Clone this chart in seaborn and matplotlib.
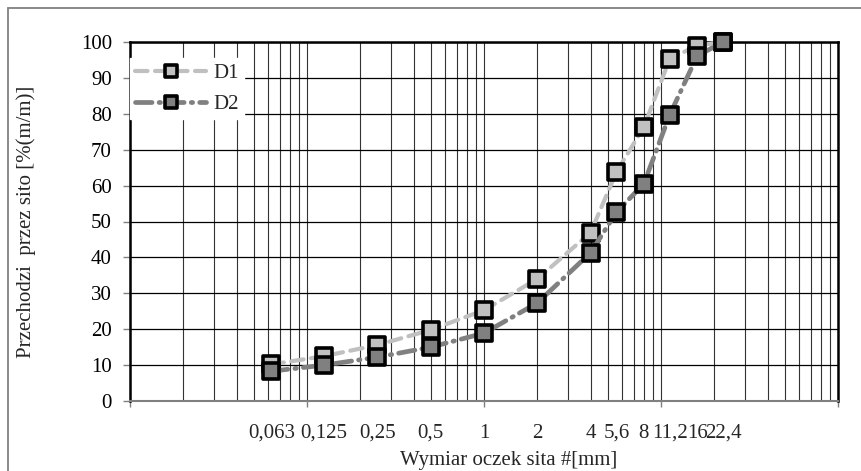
import numpy as np
import pandas as pd
import matplotlib
matplotlib.use("Agg")
import matplotlib.pyplot as plt
from matplotlib.markers import MarkerStyle
from matplotlib.patches import Rectangle
from matplotlib.ticker import LogLocator, NullFormatter
import seaborn as sns

# sieve sizes [mm] and percent passing for the two mixes
sieve_mm = [0.063, 0.125, 0.25, 0.5, 1, 2, 4, 5.6, 8, 11.2, 16, 22.4]
sieve_labels = ["0,063", "0,125", "0,25", "0,5", "1", "2", "4", "5,6", "8", "11,2", "16", "22,4"]
d1_pass = [10.2, 12.5, 15.6, 19.8, 25.3, 34.0, 46.9, 63.8, 76.3, 95.3, 99.0, 100.0]
d2_pass = [8.3, 10.0, 12.2, 15.0, 18.9, 27.3, 41.3, 52.6, 60.5, 79.7, 96.1, 100.0]
y_ticks = list(range(0, 101, 10))

df = pd.DataFrame({"sito": sieve_mm, "D1": d1_pass, "D2": d2_pass})

sns.set_theme(style="white")
plt.rcParams["font.family"] = ["Liberation Serif", "DejaVu Serif"]
plt.rcParams["font.size"] = 15

fig = plt.figure(figsize=(8.61, 4.71), dpi=100)
ax = fig.add_axes([130 / 861, 1 - 401 / 471, 708 / 861, 359 / 471])

sq = MarkerStyle("s", joinstyle="round")

sns.lineplot(data=df, x="sito", y="D1", ax=ax, sort=False, estimator=None,
             color="#c0c0c0", linewidth=3, linestyle=(0, (3, 1.8)),
             dash_capstyle="round", marker=sq, markersize=11.5,
             markerfacecolor="#c0c0c0", markeredgecolor="black",
             markeredgewidth=2.6, label="D1", clip_on=False, zorder=3)
sns.lineplot(data=df, x="sito", y="D2", ax=ax, sort=False, estimator=None,
             color="#808080", linewidth=3.4, linestyle=(0, (3.5, 1.5, 0.3, 1.5)),
             dash_capstyle="round", marker=sq, markersize=11.5,
             markerfacecolor="#808080", markeredgecolor="black",
             markeredgewidth=2.6, label="D2", clip_on=False, zorder=4)

ax.set_xscale("log")
ax.set_xlim(0.01, 100)
ax.set_ylim(0, 100)
ax.set_yticks(y_ticks)
ax.xaxis.set_major_locator(LogLocator(base=10, numticks=10))
ax.xaxis.set_minor_locator(LogLocator(base=10, subs=np.arange(2, 10), numticks=20))
ax.xaxis.set_major_formatter(NullFormatter())
ax.xaxis.set_minor_formatter(NullFormatter())

ax.grid(True, which="major", axis="y", color="black", linewidth=0.9)
ax.grid(True, which="both", axis="x", color="#333333", linewidth=0.8)
ax.set_axisbelow(True)

for side in ["top", "right", "left"]:
    ax.spines[side].set_color("black")
    ax.spines[side].set_linewidth(1.8)
ax.spines["bottom"].set_color("#808080")
ax.spines["bottom"].set_linewidth(1.5)

ax.tick_params(axis="y", which="major", left=True, length=5, width=1,
               color="#808080", pad=8, labelsize=15, labelcolor="black")
ax.tick_params(axis="x", which="major", bottom=True, length=4, width=1,
               color="#808080")
ax.tick_params(axis="x", which="minor", bottom=False, length=0)

# sieve labels under their sizes
for xv, lab in zip(sieve_mm, sieve_labels):
    ax.text(xv, -0.09, lab, transform=ax.get_xaxis_transform(),
            ha="center", va="center", fontsize=15)

ax.set_xlabel("Wymiar oczek sita #[mm]", fontsize=15)
ax.xaxis.label.set_va("center")
ax.xaxis.set_label_coords(0.535, -0.165)
ax.set_ylabel("Przechodzi  przez sito [%(m/m)]", fontsize=15)
ax.yaxis.set_label_coords(-0.133, 0.5)

leg = ax.legend(loc="upper left", bbox_to_anchor=(0.0, 0.955), borderaxespad=0,
                frameon=True, facecolor="white", edgecolor="white", framealpha=1,
                fancybox=False, fontsize=15, handlelength=3.4, handletextpad=0.35,
                labelspacing=0.55, borderpad=0.25, markerscale=0.75)
leg.set_zorder(5)

# chart area border (cropped on right and bottom)
fig.patches.append(Rectangle((8 / 861, -0.05), 1.2, 1 - 8 / 471 + 0.05,
                             transform=fig.transFigure, fill=False,
                             edgecolor="#808080", linewidth=1.3))

fig.savefig("out.png", dpi=100)
